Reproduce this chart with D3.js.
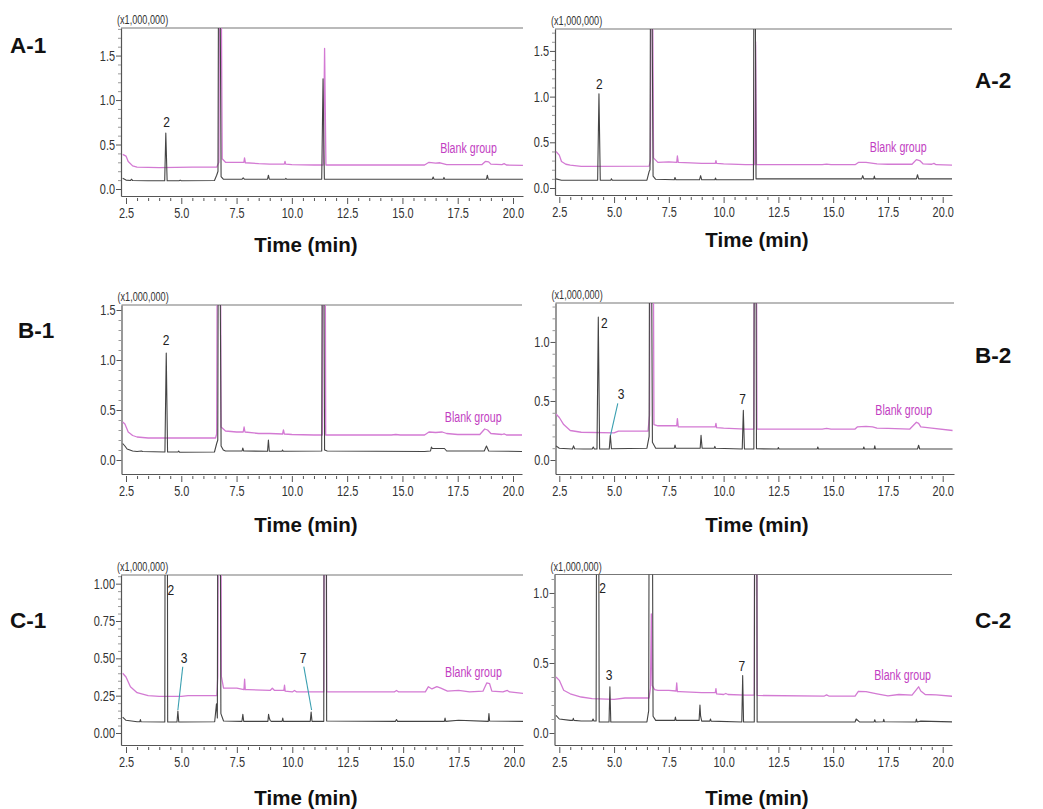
<!DOCTYPE html>
<html><head><meta charset="utf-8">
<script src="https://cdn.jsdelivr.net/npm/d3@7"></script>
<style>body{margin:0;background:#fff}</style>
</head><body>
<svg id="c" width="1043" height="809"></svg>
<script>
// ---------------- DATA ----------------
const panelNames = ["A-1","A-2","B-1","B-2","C-1","C-2"];
const xTickValues = [2.5,5,7.5,10,12.5,15,17.5,20];
const xTickLabels = ["2.5","5.0","7.5","10.0","12.5","15.0","17.5","20.0"];
const yTicksA1 = [0,0.5,1.0,1.5], yLabelsA1 = ["0.0","0.5","1.0","1.5"];
const yTicksA2 = [0,0.5,1.0,1.5], yLabelsA2 = ["0.0","0.5","1.0","1.5"];
const yTicksB1 = [0,0.5,1.0,1.5], yLabelsB1 = ["0.0","0.5","1.0","1.5"];
const yTicksB2 = [0,0.5,1.0], yLabelsB2 = ["0.0","0.5","1.0"];
const yTicksC1 = [0,0.25,0.5,0.75,1.0], yLabelsC1 = ["0.00","0.25","0.50","0.75","1.00"];
const yTicksC2 = [0,0.5,1.0], yLabelsC2 = ["0.0","0.5","1.0"];
const yMaxA1 = 1.81, yMaxA2 = 1.74, yMaxB1 = 1.55, yMaxB2 = 1.33, yMaxC1 = 1.058, yMaxC2 = 1.132;
const yUnit = "(x1,000,000)";
const xTitle = "Time (min)";
const blankName = "Blank group";

// sample (black) traces: [time(min), intensity (x1,000,000)]
const sampleA1 = [[2.35,0.12],[2.5,0.10],[2.7,0.095],[2.75,0.11],[2.8,0.095],[3.5,0.093],[4.25,0.093],[4.3,0.63],[4.36,0.093],[4.9,0.093],[4.95,0.10],[5.0,0.093],[6.5,0.095],[6.6,0.155],[6.66,0.2],[6.69,3],[6.74,3],[6.8,0.14],[6.9,0.11],[7.75,0.11],[7.8,0.125],[7.85,0.11],[8.9,0.11],[8.94,0.155],[8.98,0.11],[9.7,0.11],[9.73,0.12],[9.76,0.11],[11.35,0.11],[11.41,1.24],[11.47,0.11],[16.35,0.11],[16.39,0.135],[16.43,0.11],[16.85,0.11],[16.88,0.13],[16.91,0.11],[18.8,0.11],[18.84,0.155],[18.88,0.11],[20.45,0.11]];
const blankA1 = [[2.35,0.39],[2.5,0.37],[2.6,0.31],[2.8,0.26],[3.0,0.245],[4.0,0.24],[5.5,0.245],[6.6,0.245],[6.7,0.3],[6.73,3],[6.79,3],[6.85,0.34],[7.0,0.3],[7.5,0.3],[7.83,0.3],[7.86,0.35],[7.9,0.295],[8.5,0.285],[9.0,0.28],[9.66,0.28],[9.69,0.31],[9.72,0.28],[10.0,0.275],[11.0,0.27],[11.42,0.27],[11.48,1.58],[11.54,0.27],[14.0,0.27],[16.0,0.27],[16.2,0.30],[16.5,0.29],[16.7,0.295],[17.0,0.275],[17.5,0.275],[18.6,0.275],[18.75,0.31],[18.9,0.305],[19.0,0.28],[19.5,0.275],[19.6,0.285],[19.7,0.27],[20.45,0.265]];
const sampleA2 = [[2.35,0.10],[2.6,0.085],[4.25,0.085],[4.31,1.03],[4.37,0.085],[4.85,0.085],[4.88,0.10],[4.92,0.085],[6.5,0.085],[6.6,0.18],[6.64,0.2],[6.67,3],[6.71,3],[6.78,0.13],[6.9,0.095],[7.75,0.09],[7.78,0.115],[7.82,0.09],[8.9,0.09],[8.95,0.135],[9.0,0.09],[9.6,0.09],[9.63,0.11],[9.66,0.09],[11.36,0.09],[11.39,3],[11.43,3],[11.48,0.1],[16.3,0.1],[16.35,0.135],[16.4,0.1],[16.85,0.1],[16.88,0.13],[16.91,0.1],[18.8,0.1],[18.85,0.145],[18.9,0.1],[20.45,0.1]];
const blankA2 = [[2.35,0.40],[2.5,0.36],[2.6,0.29],[2.8,0.26],[3.0,0.25],[3.5,0.236],[6.6,0.24],[6.66,0.3],[6.69,3],[6.74,3],[6.8,0.33],[7.0,0.28],[7.5,0.285],[7.86,0.28],[7.89,0.35],[7.93,0.28],[8.5,0.275],[9.0,0.27],[9.62,0.27],[9.65,0.30],[9.68,0.27],[10.0,0.265],[11.0,0.255],[11.42,0.255],[11.46,1.6],[11.5,0.255],[14.5,0.255],[14.7,0.262],[14.9,0.255],[16.0,0.255],[16.15,0.28],[16.5,0.28],[17.0,0.265],[17.5,0.26],[18.6,0.26],[18.8,0.31],[18.95,0.3],[19.1,0.265],[19.5,0.26],[19.6,0.27],[19.7,0.255],[20.45,0.25]];
const sampleB1 = [[2.35,0.165],[2.45,0.14],[2.55,0.11],[2.8,0.09],[3.0,0.085],[3.2,0.09],[3.25,0.085],[4.26,0.08],[4.32,1.07],[4.38,0.08],[4.85,0.08],[4.88,0.09],[4.92,0.078],[6.5,0.08],[6.6,0.165],[6.65,0.2],[6.68,3],[6.73,3],[6.8,0.14],[6.9,0.1],[7.0,0.09],[7.75,0.09],[7.78,0.12],[7.82,0.09],[8.9,0.088],[8.94,0.2],[8.98,0.088],[9.55,0.088],[9.58,0.1],[9.61,0.088],[11.35,0.09],[11.38,3],[11.43,3],[11.48,0.1],[11.6,0.09],[16.0,0.085],[16.27,0.09],[16.31,0.13],[16.35,0.115],[16.9,0.115],[17.0,0.09],[18.7,0.09],[18.8,0.14],[18.9,0.09],[20.45,0.085]];
const blankB1 = [[2.35,0.38],[2.45,0.36],[2.6,0.28],[2.8,0.245],[3.0,0.23],[3.5,0.22],[6.55,0.22],[6.6,0.26],[6.64,3],[6.76,3],[6.8,0.33],[7.0,0.29],[7.5,0.28],[7.8,0.28],[7.84,0.33],[7.88,0.28],[8.5,0.265],[9.0,0.265],[9.58,0.26],[9.62,0.30],[9.66,0.26],[10.0,0.255],[11.0,0.25],[11.38,0.25],[11.41,3],[11.5,3],[11.53,0.25],[14.5,0.25],[14.7,0.255],[14.9,0.25],[16.0,0.25],[16.2,0.28],[16.5,0.275],[16.8,0.28],[17.0,0.265],[17.5,0.255],[18.5,0.255],[18.72,0.31],[18.85,0.3],[19.0,0.265],[19.5,0.255],[19.6,0.262],[19.7,0.25],[20.45,0.25]];
const sampleB2 = [[2.35,0.12],[2.5,0.10],[3.1,0.093],[3.15,0.12],[3.2,0.095],[3.6,0.093],[4.0,0.093],[4.05,0.11],[4.1,0.093],[4.22,0.093],[4.28,1.21],[4.34,0.093],[4.78,0.093],[4.83,0.21],[4.88,0.095],[6.5,0.1],[6.6,0.2],[6.63,3],[6.68,3],[6.75,0.15],[6.9,0.1],[7.75,0.1],[7.78,0.127],[7.82,0.1],[8.93,0.1],[8.97,0.21],[8.99,0.16],[9.02,0.1],[9.57,0.1],[9.6,0.115],[9.63,0.1],[10.85,0.093],[10.9,0.42],[10.95,0.093],[11.38,0.093],[11.41,3],[11.46,3],[11.5,0.095],[12.47,0.093],[12.5,0.105],[12.53,0.093],[14.27,0.093],[14.3,0.11],[14.33,0.093],[16.37,0.093],[16.4,0.11],[16.43,0.093],[16.87,0.093],[16.9,0.12],[16.93,0.093],[18.85,0.093],[18.9,0.125],[18.95,0.093],[20.45,0.093]];
const blankB2 = [[2.35,0.39],[2.5,0.36],[2.7,0.30],[3.0,0.25],[3.5,0.235],[5.0,0.23],[5.2,0.245],[6.55,0.245],[6.62,0.38],[6.65,3],[6.77,3],[6.82,0.3],[7.0,0.29],[7.5,0.29],[7.86,0.29],[7.89,0.35],[7.93,0.28],[8.5,0.28],[9.0,0.28],[9.62,0.28],[9.65,0.31],[9.68,0.275],[10.0,0.27],[11.0,0.262],[11.38,0.262],[11.41,3],[11.49,3],[11.52,0.262],[14.5,0.262],[14.7,0.268],[14.9,0.262],[16.0,0.262],[16.1,0.28],[16.5,0.285],[16.8,0.28],[17.0,0.27],[17.5,0.268],[18.5,0.262],[18.8,0.32],[18.9,0.31],[19.0,0.28],[19.5,0.27],[20.45,0.25]];
const sampleC1 = [[2.35,0.107],[2.5,0.085],[3.0,0.075],[3.12,0.075],[3.15,0.09],[3.18,0.075],[4.25,0.074],[4.28,3],[4.35,3],[4.38,0.074],[4.8,0.074],[4.84,0.147],[4.88,0.074],[6.5,0.075],[6.58,0.196],[6.62,0.1],[6.66,3],[6.72,3],[6.78,0.13],[6.9,0.08],[7.73,0.078],[7.77,0.125],[7.81,0.078],[8.9,0.078],[8.93,0.125],[8.96,0.1],[9.0,0.085],[9.05,0.078],[9.54,0.078],[9.57,0.1],[9.6,0.078],[10.81,0.078],[10.85,0.14],[10.89,0.078],[11.42,0.078],[11.45,3],[11.52,3],[11.55,0.08],[14.65,0.078],[14.7,0.09],[14.75,0.078],[16.0,0.078],[16.86,0.078],[16.89,0.1],[16.92,0.078],[17.5,0.085],[18.84,0.078],[18.87,0.13],[18.9,0.08],[20.45,0.078]];
const blankC1 = [[2.35,0.40],[2.5,0.375],[2.7,0.31],[2.85,0.29],[3.0,0.27],[3.5,0.25],[4.0,0.245],[5.0,0.245],[5.3,0.25],[6.6,0.25],[6.64,0.38],[6.68,3],[6.76,3],[6.8,0.38],[6.9,0.30],[7.0,0.30],[7.5,0.30],[7.82,0.29],[7.85,0.36],[7.88,0.29],[8.0,0.29],[9.0,0.285],[9.1,0.3],[9.2,0.285],[9.62,0.285],[9.65,0.32],[9.68,0.28],[10.0,0.275],[10.1,0.285],[10.2,0.275],[11.0,0.275],[11.42,0.275],[11.45,3],[11.52,3],[11.55,0.275],[14.6,0.275],[14.7,0.285],[14.8,0.275],[16.0,0.275],[16.14,0.31],[16.3,0.295],[16.52,0.31],[16.7,0.3],[17.0,0.28],[17.5,0.285],[18.0,0.275],[18.6,0.28],[18.77,0.335],[18.9,0.33],[19.0,0.28],[19.5,0.275],[19.7,0.285],[19.8,0.275],[20.45,0.265]];
const sampleC2 = [[2.35,0.126],[2.5,0.1],[3.0,0.09],[3.11,0.09],[3.14,0.105],[3.17,0.09],[3.5,0.086],[4.0,0.086],[4.04,0.1],[4.08,0.086],[4.18,0.086],[4.22,3],[4.28,3],[4.32,0.079],[4.77,0.079],[4.81,0.33],[4.85,0.079],[6.5,0.079],[6.58,0.16],[6.62,3],[6.72,3],[6.78,0.12],[6.9,0.09],[7.77,0.09],[7.8,0.114],[7.83,0.09],[8.88,0.09],[8.92,0.2],[8.95,0.12],[9.0,0.085],[9.37,0.085],[9.4,0.1],[9.43,0.085],[10.83,0.079],[10.87,0.41],[10.91,0.079],[11.4,0.079],[11.43,3],[11.5,3],[11.53,0.079],[16.0,0.079],[16.05,0.1],[16.2,0.079],[16.87,0.079],[16.9,0.095],[16.93,0.079],[17.28,0.08],[17.31,0.098],[17.34,0.08],[18.77,0.079],[18.8,0.1],[18.83,0.079],[19.0,0.085],[20.45,0.079]];
const blankC2 = [[2.35,0.40],[2.5,0.376],[2.7,0.305],[3.0,0.28],[3.5,0.257],[4.0,0.245],[5.0,0.24],[5.5,0.25],[6.6,0.25],[6.66,0.32],[6.7,0.85],[6.74,0.34],[6.85,0.31],[7.0,0.305],[7.5,0.305],[7.83,0.3],[7.86,0.357],[7.89,0.295],[8.0,0.295],[9.0,0.288],[9.62,0.288],[9.65,0.317],[9.68,0.28],[10.0,0.275],[10.1,0.282],[10.2,0.275],[11.0,0.27],[11.4,0.27],[11.43,3],[11.5,3],[11.53,0.268],[14.6,0.264],[14.7,0.272],[14.8,0.264],[16.0,0.264],[16.15,0.298],[16.5,0.295],[17.0,0.28],[17.5,0.265],[18.0,0.275],[18.6,0.27],[18.9,0.33],[19.0,0.3],[19.2,0.275],[19.7,0.272],[20.45,0.262]];

// peak labels [label, time, intensity] and leader lines [t1,v1,t2,v2]
const peaksA1 = [["2",4.34,0.756]];
const peaksA2 = [["2",4.33,1.145]];
const peaksB1 = [["2",4.31,1.2]];
const peaksB2 = [["2",4.55,1.16],["3",5.32,0.565],["7",10.87,0.52]];
const peaksC1 = [["2",4.52,0.962],["3",5.12,0.507],["7",10.49,0.507]];
const peaksC2 = [["2",4.48,1.04],["3",4.77,0.414],["7",10.83,0.479]];
const leadersA1 = [], leadersA2 = [], leadersB1 = [], leadersC2 = [];
const leadersB2 = [[5.17,0.48,4.84,0.21]];
const leadersC1 = [[5.06,0.444,4.84,0.154],[10.52,0.444,10.87,0.154]];
// "Blank group" label anchor [time, intensity]
const blankLabelPos = [[17.99,0.457],[17.97,0.452],[18.2,0.433],[18.22,0.424],[18.17,0.41],[18.17,0.414]];

// ---------------- LAYOUT ----------------
const L = [
 {left:121, right:523, top:28, zero:189, bottom:196, x0:126, x1:513, nameX:10, nameY:53, titleX:306, titleY:252},
 {left:555, right:952, top:29, zero:188, bottom:195, x0:559.3, x1:942.7, nameX:975, nameY:88, titleX:757, titleY:247},
 {left:121.5, right:522, top:305, zero:460, bottom:474, x0:126, x1:513, nameX:18, nameY:338, titleX:306, titleY:532},
 {left:555.5, right:954, top:303, zero:460, bottom:474, x0:559.3, x1:942.7, nameX:975, nameY:363, titleX:757, titleY:532},
 {left:121, right:523, top:575, zero:733, bottom:745, x0:126, x1:514, nameX:10, nameY:628, titleX:306, titleY:805},
 {left:554.5, right:952, top:574.5, zero:733, bottom:745, x0:559.3, x1:942.7, nameX:975, nameY:628, titleX:757, titleY:805}
];
const yTickSets = [yTicksA1,yTicksA2,yTicksB1,yTicksB2,yTicksC1,yTicksC2];
const yLabelSets = [yLabelsA1,yLabelsA2,yLabelsB1,yLabelsB2,yLabelsC1,yLabelsC2];
const yMaxes = [yMaxA1,yMaxA2,yMaxB1,yMaxB2,yMaxC1,yMaxC2];
const samples = [sampleA1,sampleA2,sampleB1,sampleB2,sampleC1,sampleC2];
const blanks = [blankA1,blankA2,blankB1,blankB2,blankC1,blankC2];
const peaks = [peaksA1,peaksA2,peaksB1,peaksB2,peaksC1,peaksC2];
const leaders = [leadersA1,leadersA2,leadersB1,leadersB2,leadersC1,leadersC2];
const yMinorStep = [0.1,0.1,0.1,0.1,0.05,0.1];

const NARROW = 0.78;
const FONT = "'Liberation Sans', Arial, sans-serif";
const AXC = "#555";

function narrow(sel, f){
  sel.each(function(){
    const w = this.getComputedTextLength();
    if (w>0){ d3.select(this).attr("textLength", w*f).attr("lengthAdjust","spacingAndGlyphs"); }
  });
}

const svg = d3.select("#c");

panelNames.forEach((name,i)=>{
  const p = L[i];
  const xs = d3.scaleLinear().domain([2.5,20]).range([p.x0,p.x1]);
  const x = d3.scaleLinear().domain([xs.invert(p.left), xs.invert(p.right)]).range([p.left,p.right]);
  const ys = d3.scaleLinear().domain([0,yMaxes[i]]).range([p.zero,p.top]);
  const y = d3.scaleLinear().domain([ys.invert(p.bottom), yMaxes[i]]).range([p.bottom,p.top]);

  const g = svg.append("g");
  const clipId = "clip"+i;
  g.append("clipPath").attr("id",clipId).append("rect")
    .attr("x",p.left).attr("y",p.top).attr("width",p.right-p.left).attr("height",p.bottom-p.top);

  g.append("line").attr("x1",p.left).attr("x2",p.right).attr("y1",p.top).attr("y2",p.top)
    .attr("stroke","#777").attr("stroke-width",1.2);

  const xMinor = d3.range(2.5, 20.01, 0.5).filter(v=>Math.abs((v/2.5)-Math.round(v/2.5))>1e-6);
  const gxm = g.append("g").attr("transform",`translate(0,${p.bottom})`)
    .call(d3.axisBottom(x).tickValues(xMinor).tickSize(3).tickSizeOuter(0).tickFormat(""));
  gxm.select(".domain").attr("stroke",AXC).attr("stroke-width",1.2);
  gxm.selectAll(".tick line").attr("stroke",AXC).attr("transform","translate(0,2)");
  const gx = g.append("g").attr("transform",`translate(0,${p.bottom})`)
    .call(d3.axisBottom(x).tickValues(xTickValues).tickSize(6).tickSizeOuter(0).tickPadding(6)
      .tickFormat((d,k)=>xTickLabels[k]));
  gx.select(".domain").remove();
  gx.selectAll(".tick line").attr("stroke",AXC).attr("transform","translate(0,2)");
  gx.selectAll("text").attr("font-family",FONT).attr("font-size",14).attr("fill","#333");
  narrow(gx.selectAll("text"), NARROW);

  const yMinor = d3.range(0, yMaxes[i]+1e-6, yMinorStep[i]).map(v=>+v.toFixed(3))
    .filter(v=>!yTickSets[i].some(t=>Math.abs(t-v)<1e-6));
  const gym = g.append("g").attr("transform",`translate(${p.left},0)`)
    .call(d3.axisLeft(y).tickValues(yMinor).tickSize(3).tickSizeOuter(0).tickFormat(""));
  gym.select(".domain").attr("stroke",AXC).attr("stroke-width",1.2);
  gym.selectAll(".tick line").attr("stroke","#999");
  const gy = g.append("g").attr("transform",`translate(${p.left},0)`)
    .call(d3.axisLeft(y).tickValues(yTickSets[i]).tickSize(5).tickSizeOuter(0).tickPadding(1)
      .tickFormat((d,k)=>yLabelSets[i][k]));
  gy.select(".domain").remove();
  gy.selectAll(".tick line").attr("stroke",AXC);
  gy.selectAll("text").attr("font-family",FONT).attr("font-size",14).attr("fill","#333");
  narrow(gy.selectAll("text"), NARROW);

  const ut = g.append("text").attr("x",p.left-4).attr("y",p.top-4)
    .attr("font-family",FONT).attr("font-size",12).attr("fill","#333").text(yUnit);
  narrow(ut, 0.76);

  const line = d3.line().x(d=>x(d[0])).y(d=>y(d[1]));
  const tg = g.append("g").attr("clip-path",`url(#${clipId})`);
  tg.append("path").datum(blanks[i]).attr("d",line).attr("fill","none")
    .attr("stroke","#d37ad3").attr("stroke-width",1.3).attr("stroke-linejoin","round");
  tg.append("path").datum(samples[i]).attr("d",line).attr("fill","none")
    .attr("stroke","#444").attr("stroke-width",1.1).attr("stroke-linejoin","round");

  g.selectAll(".ld").data(leaders[i]).enter().append("line")
    .attr("x1",d=>x(d[0])).attr("y1",d=>y(d[1])).attr("x2",d=>x(d[2])).attr("y2",d=>y(d[3]))
    .attr("stroke","#3a9fb0").attr("stroke-width",1.1);

  const pl = g.selectAll(".pk").data(peaks[i]).enter().append("text")
    .attr("x",d=>x(d[1])).attr("y",d=>y(d[2])).attr("dy","0.36em")
    .attr("text-anchor","middle").attr("font-family",FONT).attr("font-size",15).attr("fill","#222")
    .text(d=>d[0]);
  narrow(pl, 0.8);

  const bl = g.append("text").attr("x",x(blankLabelPos[i][0])).attr("y",y(blankLabelPos[i][1]))
    .attr("dy","0.36em").attr("text-anchor","middle").attr("font-family",FONT).attr("font-size",14)
    .attr("fill","#c23ec2").text(blankName);
  narrow(bl, 0.76);

  g.append("text").attr("x",p.titleX).attr("y",p.titleY).attr("text-anchor","middle")
    .attr("font-family",FONT).attr("font-weight","bold").attr("font-size",20.5).attr("fill","#111")
    .text(xTitle);

  g.append("text").attr("x",p.nameX).attr("y",p.nameY)
    .attr("font-family",FONT).attr("font-weight","bold").attr("font-size",22.5).attr("fill","#111")
    .text(name);
});
</script>
</body></html>
